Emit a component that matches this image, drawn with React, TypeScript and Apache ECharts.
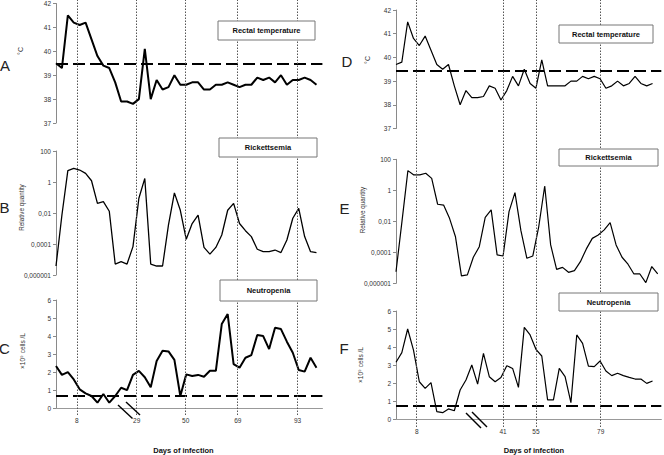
import React, { useEffect, useRef } from "react";
import * as echarts from "echarts";

// ---------- data ----------
const tempLeft = [39.5, 39.3, 41.5, 41.2, 41.1, 41.2, 40.5, 39.8, 39.4, 39.3, 38.7, 37.9, 37.9, 37.8, 38.0, 40.1, 38.0, 38.8, 38.4, 38.5, 39.0, 38.6, 38.6, 38.7, 38.7, 38.4, 38.4, 38.6, 38.6, 38.7, 38.6, 38.5, 38.6, 38.6, 38.9, 38.8, 38.9, 38.7, 39.0, 38.6, 38.8, 38.8, 38.9, 38.8, 38.6];
const ricLeft = [3.8e-6, 0.0074, 5.4, 7.6, 5.9, 3.6, 1.2, 0.042, 0.054, 0.013, 5.1e-6, 7.2e-6, 5.1e-6, 6.8e-5, 0.089, 1.7, 5.1e-6, 3.8e-6, 3.8e-6, 0.0017, 0.2, 0.015, 2.0e-4, 0.0021, 0.0074, 6.0e-5, 2.2e-5, 6.0e-5, 3.8e-4, 0.015, 0.042, 0.0021, 7.2e-4, 3.0e-4, 4.6e-5, 3.2e-5, 3.2e-5, 4.1e-5, 2.8e-5, 1.8e-4, 0.0046, 0.02, 3.0e-4, 3.2e-5, 2.8e-5];
const neuLeft = [2.34, 1.85, 2.0, 1.6, 1.05, 0.83, 0.68, 0.31, 0.79, 0.31, 0.68, 1.14, 1.01, 1.85, 2.07, 1.72, 1.16, 2.62, 3.19, 3.15, 2.68, 0.68, 1.88, 1.79, 1.85, 1.75, 2.08, 2.08, 4.67, 5.22, 2.45, 2.25, 2.8, 2.95, 4.06, 4.0, 3.28, 4.46, 4.39, 3.69, 3.08, 2.12, 2.03, 2.8, 2.25];

const tempRight = [39.7, 39.8, 41.5, 40.8, 40.5, 40.9, 40.3, 39.7, 39.5, 39.7, 38.8, 38.0, 38.6, 38.3, 38.3, 38.35, 38.8, 38.7, 38.2, 38.6, 39.2, 38.8, 39.5, 38.9, 38.7, 39.9, 38.8, 38.8, 38.8, 38.8, 39.0, 39.0, 39.2, 39.1, 39.2, 39.1, 38.7, 38.8, 39.0, 38.8, 38.9, 39.2, 38.9, 38.8, 38.9];
const ricRight = [5.6e-6, 0.0095, 18.6, 9.8, 9.8, 12.6, 5.9, 0.126, 0.112, 0.0155, 0.001, 3.0e-6, 3.5e-6, 4.8e-5, 2.3e-4, 0.018, 0.054, 6.8e-5, 5.8e-5, 0.042, 0.71, 0.0025, 4.1e-5, 5.8e-5, 0.0046, 1.9, 3.0e-4, 7.9e-6, 1.07e-5, 5.1e-6, 6.6e-6, 2.5e-5, 1.66e-4, 7.9e-4, 0.0013, 0.0028, 0.0081, 3.0e-4, 4.8e-5, 1.7e-5, 4.0e-6, 4.0e-6, 1.1e-6, 1.2e-5, 4.0e-6];
const neuRight = [3.15, 3.69, 5.0, 3.83, 2.07, 1.7, 2.02, 0.41, 0.35, 0.56, 0.46, 1.61, 2.17, 3.0, 1.94, 3.65, 2.35, 2.07, 2.31, 2.96, 2.81, 1.76, 5.09, 4.67, 3.87, 3.5, 1.06, 1.06, 2.81, 2.35, 0.91, 4.67, 4.2, 2.94, 2.91, 3.22, 2.67, 2.41, 2.54, 2.41, 2.31, 2.22, 2.22, 1.98, 2.11];

// thresholds [left, right]
const tempThreshold = [39.47, 39.42];
const ricThreshold = [6.8e-5, 6.8e-5];
const neuThreshold = [0.68, 0.74];

// day markers (position on the sample axis) and their labels
const dayLabelsLeft = ["8", "29", "50", "69", "93"];
const dayPosLeft = [3.53, 13.63, 21.9, 30.7, 40.8];
const dayLabelsRight = ["8", "41", "55", "79"];
const dayPosRight = [3.55, 18.35, 24.0, 35.1];

const logTickLabels = ["0,000001", "0,0001", "0,01", "1", "100"];
const panelTitles = ["Rectal temperature", "Rickettsemia", "Neutropenia"];
const panelLetters = ["A", "B", "C", "D", "E", "F"];
const yNames = ["°C", "Relative quantity", "×10⁹ cells /L"];
const xName = "Days of infection";

// ---------- styling ----------
const FONT = "'Liberation Sans', Arial, Helvetica, sans-serif";
const AX = "#8a8a8a";

export default function App() {
  const ref = useRef<HTMLDivElement>(null);

  useEffect(() => {
    if (!ref.current) return;
    const chart = echarts.init(ref.current, undefined, { renderer: "svg" });

    const LX = 56, LW = 266.4, RX = 396, RW = 265.3;
    const grids = [
      { left: LX, top: 3, width: LW, height: 120 },
      { left: LX, top: 151, width: LW, height: 124 },
      { left: LX, top: 300, width: LW, height: 108.3 },
      { left: LX, top: 0, width: LW, height: 415 },
      { left: RX, top: 10, width: RW, height: 118.5 },
      { left: RX, top: 159.3, width: RW, height: 124 },
      { left: RX, top: 311, width: RW, height: 108 },
      { left: RX, top: 0, width: RW, height: 427 },
    ];
    const xMax = [45, 45, 45, 45, 45.5, 44.6, 45.5, 45.5];

    const labelFor = (pos: number[], labels: string[]) => (v: number) => {
      const k = pos.findIndex((p) => Math.abs(p - v) < 0.01);
      return k >= 0 ? labels[k] : "";
    };

    const xAxes = grids.map((_, g) => {
      const isBottom = g === 2 || g === 6;
      const pos = g < 4 ? dayPosLeft : dayPosRight;
      const labels = g < 4 ? dayLabelsLeft : dayLabelsRight;
      return {
        type: "value",
        gridIndex: g,
        min: 0,
        max: xMax[g],
        show: isBottom,
        axisLine: { show: isBottom, onZero: false, lineStyle: { color: "#999", width: 1.2 } },
        axisTick: { show: false },
        splitLine: { show: false },
        axisLabel: {
          show: isBottom,
          customValues: pos,
          formatter: labelFor(pos, labels),
          fontSize: 6.5,
          color: "#333",
          fontFamily: FONT,
          margin: 9,
        },
      };
    });

    const yBase = (g: number) => ({
      gridIndex: g,
      axisLine: { show: true, lineStyle: { color: AX, width: 1 } },
      axisTick: { show: true, length: 3, lineStyle: { color: AX } },
      splitLine: { show: false },
      axisLabel: { fontSize: 6.5, color: "#333", margin: 5, fontFamily: FONT },
    });
    const tempY = (g: number) => ({ ...yBase(g), type: "value", min: 37, max: 42, interval: 1 });
    const logY = (g: number) => ({
      ...yBase(g),
      type: "log",
      logBase: 100,
      min: 1e-6,
      max: 100,
      splitNumber: 4,
      axisLabel: {
        ...yBase(g).axisLabel,
        formatter: (v: number) => {
          const k = Math.round(Math.log10(v));
          return logTickLabels[(k + 6) / 2] ?? "";
        },
      },
    });
    const neuY = (g: number) => ({ ...yBase(g), type: "value", min: 0, max: 6, interval: 1 });
    const overlayY = (g: number) => ({ type: "value", gridIndex: g, min: 0, max: 1, show: false });

    const yAxes = [tempY(0), logY(1), neuY(2), overlayY(3), tempY(4), logY(5), neuY(6), overlayY(7)];

    const dataSeries = (arr: number[], g: number, thr: number, width: number) => ({
      type: "line",
      xAxisIndex: g,
      yAxisIndex: g,
      data: arr.map((v, i) => [i, v]),
      symbol: "none",
      showSymbol: false,
      silent: true,
      z: 3,
      lineStyle: { color: "#000", width },
      markLine: {
        silent: true,
        symbol: ["none", "none"],
        label: { show: false },
        lineStyle: { color: "#000", width: 2.2, type: [12, 5] },
        data: [{ yAxis: thr }],
      },
    });
    const overlaySeries = (g: number, pos: number[]) => ({
      type: "line",
      xAxisIndex: g,
      yAxisIndex: g,
      data: [],
      silent: true,
      z: 1,
      markLine: {
        silent: true,
        symbol: ["none", "none"],
        label: { show: false },
        lineStyle: { color: "#555", width: 1, type: [1.5, 1.5] },
        data: pos.map((p) => ({ xAxis: p })),
      },
    });

    const series = [
      dataSeries(tempLeft, 0, tempThreshold[0], 2),
      dataSeries(ricLeft, 1, ricThreshold[0], 1.3),
      dataSeries(neuLeft, 2, neuThreshold[0], 2),
      overlaySeries(3, dayPosLeft),
      dataSeries(tempRight, 4, tempThreshold[1], 1.2),
      dataSeries(ricRight, 5, ricThreshold[1], 1.2),
      dataSeries(neuRight, 6, neuThreshold[1], 1.2),
      overlaySeries(7, dayPosRight),
    ];

    // ---------- annotations ----------
    const boxes = [
      { x: 218, y: 21, w: 97, h: 19, t: panelTitles[0] },
      { x: 219, y: 138, w: 98, h: 19, t: panelTitles[1] },
      { x: 220, y: 280, w: 97, h: 21, t: panelTitles[2] },
      { x: 559, y: 25, w: 94, h: 18, t: panelTitles[0] },
      { x: 559, y: 149, w: 99, h: 17, t: panelTitles[1] },
      { x: 559, y: 293, w: 99, h: 18, t: panelTitles[2] },
    ];
    const letters = [
      { x: 5, y: 65 }, { x: 4.5, y: 207 }, { x: 4.5, y: 348 },
      { x: 347, y: 61 }, { x: 344.5, y: 208 }, { x: 344, y: 348 },
    ];
    const ynamePos = [
      { x: 20.5, y: 51, s: 7 }, { x: 21.7, y: 207.5, s: 6.3 }, { x: 22.5, y: 351, s: 6.5 },
      { x: 367.5, y: 60, s: 7 }, { x: 362.5, y: 210, s: 6.3 }, { x: 360.5, y: 365, s: 6.5 },
    ];
    const breaks = [
      [118, 405, 132.5, 418.5], [126, 402, 140, 415],
      [466, 413, 481, 428], [472, 412, 487, 427],
    ];

    const graphic: any[] = [];
    boxes.forEach((b) => {
      graphic.push({
        type: "rect",
        z: 10,
        shape: { x: b.x, y: b.y, width: b.w, height: b.h },
        style: { fill: "#fff", stroke: "#777", lineWidth: 1 },
      });
      graphic.push({
        type: "text",
        z: 11,
        x: b.x + b.w / 2,
        y: b.y + b.h / 2,
        style: {
          text: b.t, fill: "#111", fontSize: 7.5, fontWeight: "bold", fontFamily: FONT,
          align: "center", verticalAlign: "middle",
        },
      });
    });
    letters.forEach((p, i) => {
      graphic.push({
        type: "text", z: 11, x: p.x, y: p.y,
        style: {
          text: panelLetters[i], fill: "#222", fontSize: 15, fontFamily: FONT,
          align: "center", verticalAlign: "middle",
        },
      });
    });
    ynamePos.forEach((p, i) => {
      graphic.push({
        type: "text", z: 11, x: p.x, y: p.y, rotation: Math.PI / 2,
        style: {
          text: yNames[i % 3], fill: "#333", fontSize: p.s, fontFamily: FONT,
          align: "center", verticalAlign: "middle",
        },
      });
    });
    [183.5, 534].forEach((x) => {
      graphic.push({
        type: "text", z: 11, x, y: 450,
        style: {
          text: xName, fill: "#111", fontSize: 7.5, fontWeight: "bold", fontFamily: FONT,
          align: "center", verticalAlign: "middle",
        },
      });
    });
    breaks.forEach((l) => {
      graphic.push({
        type: "line", z: 11,
        shape: { x1: l[0], y1: l[1], x2: l[2], y2: l[3] },
        style: { stroke: "#000", lineWidth: 1.4 },
      });
    });

    chart.setOption({
      animation: false,
      backgroundColor: "#fff",
      grid: grids,
      xAxis: xAxes,
      yAxis: yAxes,
      series,
      graphic,
    } as any);

    return () => chart.dispose();
  }, []);

  return (
    <div
      ref={ref}
      style={{ position: "fixed", left: 0, top: 0, width: 664, height: 455, background: "#fff" }}
    />
  );
}
